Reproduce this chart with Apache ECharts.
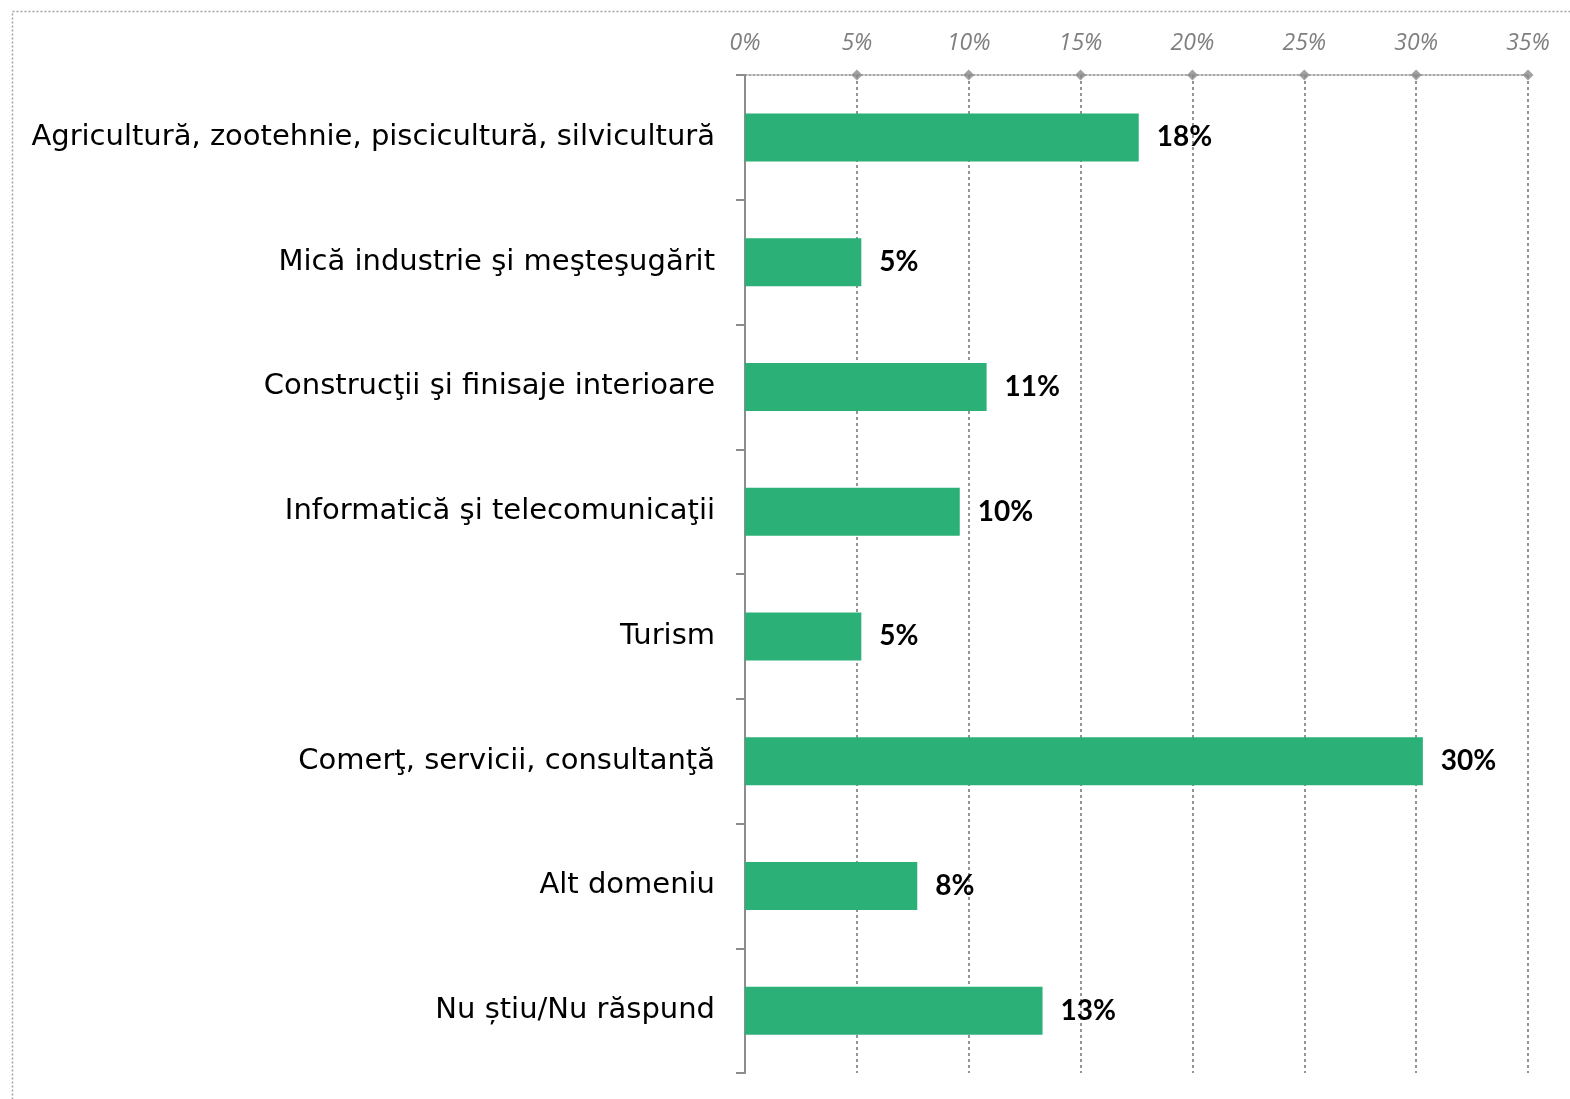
<!DOCTYPE html>
<html><head><meta charset="utf-8">
<script src="https://cdn.jsdelivr.net/npm/echarts@6/dist/echarts.min.js"></script>
<style>html,body{margin:0;padding:0;background:#fff}#c{width:1570px;height:1099px}</style>
</head><body><div id="c"></div>
<script>
const categories = [
  "Agricultură, zootehnie, piscicultură, silvicultură",
  "Mică industrie şi meşteşugărit",
  "Construcţii şi finisaje interioare",
  "Informatică şi telecomunicaţii",
  "Turism",
  "Comerţ, servicii, consultanţă",
  "Alt domeniu",
  "Nu știu/Nu răspund"
];
const values = [17.6, 5.2, 10.8, 9.6, 5.2, 30.3, 7.7, 13.3];
const tickValues = [5, 10, 15, 20, 25, 30, 35];

const chart = echarts.init(document.getElementById('c'));
chart.setOption({
  animation: false,
  grid: { left: 745, right: 42, top: 75, bottom: 26, containLabel: false },
  graphic: [{
    type: 'rect', left: 10, top: 9, z: -10,
    shape: { width: 1600, height: 1200 },
    style: { fill: 'none', stroke: '#a0a0a0', lineWidth: 1.5, lineDash: [2, 2] }
  }],
  xAxis: [{
    type: 'value', position: 'top', min: 0, max: 35, interval: 5,
    axisLine: { show: true, onZero: false, lineStyle: { color: '#8a8a8a', width: 1.5, type: [2, 2] } },
    axisTick: { show: false },
    axisLabel: { formatter: '{value}%', color: '#7f7f7f', fontStyle: 'italic', fontSize: 23, fontFamily: 'Open Sans', margin: 20 },
    splitLine: { show: true, lineStyle: { color: '#949494', width: 2, type: [3, 3] } }
  }],
  yAxis: [{
    type: 'category', inverse: true, data: categories,
    axisLine: { show: true, lineStyle: { color: '#8c8c8c', width: 2 } },
    axisTick: { show: true, length: 9, lineStyle: { color: '#8c8c8c', width: 2 } },
    axisLabel: { color: '#000', fontSize: 29, fontFamily: 'DejaVu Sans', margin: 30 }
  }, {
    type: 'value', min: 0, max: 1, show: false
  }],
  series: [{
    type: 'bar', data: values, barWidth: 48,
    itemStyle: { color: '#2bb177' },
    label: { show: true, position: 'right', distance: 18, color: '#000', fontWeight: 'bold', fontSize: 28, fontFamily: 'Lato',
      formatter: p => Math.round(p.value) + '%' }
  }, {
    type: 'scatter', yAxisIndex: 1, symbol: 'diamond', symbolSize: 11,
    itemStyle: { color: '#8a8a8a' }, z: 5, clip: false,
    data: tickValues.map(v => [v, 1])
  }]
});
</script></body></html>
